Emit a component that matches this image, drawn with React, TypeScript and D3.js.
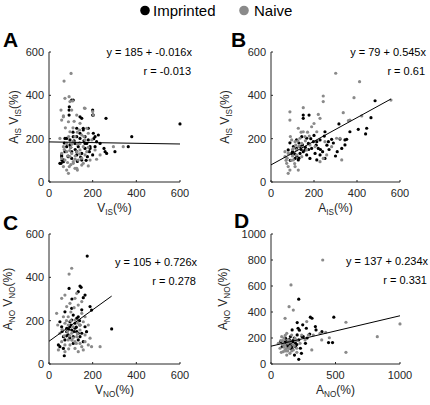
import React from 'react';
import * as d3 from 'd3';

type Pt = [number, number];

// ---------- data ----------
const seriesNames = ['Imprinted', 'Naive'];
const seriesColors = ['#000000', '#8a8a8a'];

const aImprinted: Pt[] = [
  [600,268],[379,209],[363,163],[302,140],[257,140],[264,132],[252,155],[261,294],[200,309],[200,332],
  [92,309],[92,332],[111,378],[104,378],[127,248],[150,294],[157,248],[142,201],[165,209],[180,194],
  [203,225],[226,217],[218,186],[81,201],[96,171],[119,178],[134,163],[165,155],[188,163],[73,140],
  [104,140],[127,125],[150,132],[176,117],[200,125],[58,117],[50,86],[66,94],[104,109],[150,101],
  [211,163],[234,178],[81,163],[55,86],[96,194],[127,209],[180,248],[142,225],[165,178],[88,120],
  [120,150],[140,180],[110,230],[70,180],[160,190],[185,140],[60,100],[130,95],[205,200],
  [73,201],[111,209],[157,240],[211,209],[173,178],[188,155],[58,125],[66,102],[88,117],[127,140],
  [142,301],[203,309],[93,347],[99,160],[115,190],[145,115],[170,100]
];
const aNaive: Pt[] = [
  [69,466],[101,501],[73,386],[92,394],[108,374],[55,332],[66,305],[162,341],[200,325],[203,309],
  [89,278],[127,309],[104,332],[142,271],[173,248],[50,201],[66,163],[96,117],[93,71],[89,40],
  [119,63],[130,55],[150,78],[180,74],[188,101],[218,105],[234,125],[295,163],[340,163],[111,186],
  [142,178],[157,163],[81,140],[58,132],[104,132],[127,140],[173,140],[211,148],[73,101],[134,101],
  [165,125],[96,232],[119,209],[150,217],[180,225],[196,194],[81,178],[58,109],[142,148],[165,194],
  [111,86],[81,55],[66,71],[100,160],[120,120],[85,90],[140,240],[75,250],[115,280],[160,210],
  [95,145],[130,175],[96,371],[165,340],[58,286],[66,301],[127,63],[157,86],[111,94],[100,80],
  [120,105],[140,130],[90,210],[110,250],[130,230],[70,150],[85,120],[150,110],[180,160],[105,175]
];

const bImprinted: Pt[] = [
  [484,375],[465,297],[445,248],[440,222],[406,243],[367,232],[352,197],[344,194],[321,198],[316,268],
  [308,140],[282,197],[267,186],[251,232],[248,212],[228,194],[213,186],[197,186],[189,155],[220,155],
  [205,132],[228,125],[251,109],[213,102],[181,109],[166,125],[158,148],[146,171],[135,163],[119,155],
  [143,209],[166,202],[150,309],[150,294],[177,309],[88,181],[80,148],[96,132],[112,109],[127,102],
  [135,132],[174,178],[329,155],[344,171],[119,194],[104,163],[200,215],[260,170],[240,140],[150,140],
  [130,180],[175,150],[110,130],[290,180],[100,140],[120,120],[140,150],[160,160],[185,200],[210,170],
  [230,150],[270,150],[300,120],[90,100],[130,110]
];
const bNaive: Pt[] = [
  [301,502],[412,463],[386,389],[558,378],[243,397],[243,371],[150,343],[88,324],[88,286],[220,312],
  [228,294],[336,320],[360,283],[422,305],[321,202],[305,202],[329,102],[127,248],[189,255],[213,232],
  [112,186],[135,202],[158,209],[104,155],[80,132],[65,117],[73,86],[80,71],[88,55],[80,40],
  [112,71],[127,55],[104,102],[143,117],[166,148],[181,171],[205,163],[243,109],[259,125],[228,94],
  [143,178],[119,148],[367,286],[282,163],[251,186],[150,232],[96,194],[65,140],[119,125],[178,212],
  [95,100],[130,165],[160,190],[70,100],[100,120],[85,130],[100,150],[115,170],[125,190],[140,230],
  [170,230],[200,270],[90,210],[110,85],[75,110]
];

const cImprinted: Pt[] = [
  [175,498],[142,360],[147,354],[92,349],[165,318],[157,306],[134,334],[188,265],[287,162],[195,249],
  [104,257],[73,241],[111,226],[134,218],[96,195],[119,188],[142,180],[165,172],[50,195],[58,172],
  [81,165],[104,157],[127,149],[150,142],[88,134],[111,126],[134,111],[157,103],[43,88],[50,80],
  [66,72],[70,38],[96,172],[119,165],[134,142],[81,149],[104,203],[127,211],[66,126],[172,149],
  [142,126],[111,95],[73,111],[90,160],[100,180],[115,150],[125,170],[80,130],[95,120],[60,150],
  [140,200],[105,300],[150,250]
];
const cNaive: Pt[] = [
  [104,442],[92,415],[73,318],[58,303],[119,303],[127,326],[150,288],[96,280],[81,265],[134,272],
  [35,234],[66,218],[88,218],[150,234],[165,218],[40,180],[73,188],[119,203],[157,195],[180,180],
  [50,142],[88,111],[119,103],[142,95],[165,103],[180,88],[195,80],[234,80],[96,88],[119,72],
  [43,65],[73,57],[134,57],[150,80],[58,103],[104,142],[127,126],[111,172],[165,134],[142,157],
  [73,88],[157,65],[188,119],[88,180],[100,240],[130,190],[85,150],[110,120],[60,160],[95,130],
  [105,110],[125,95],[90,70],[70,130],[115,260],[140,180],[80,200],[100,200],[130,140]
];

const dImprinted: Pt[] = [
  [215,499],[305,360],[318,352],[487,360],[203,319],[246,301],[164,262],[210,275],[274,275],[344,288],
  [349,262],[203,224],[241,211],[151,211],[113,198],[169,172],[215,185],[138,147],[190,134],[228,121],
  [236,82],[182,69],[215,36],[87,134],[74,172],[164,121],[267,159],[446,165],[477,165],[395,249],
  [130,180],[150,160],[180,200],[120,150],[200,150],[140,190],[160,140],[100,160],[250,210],[300,230],
  [110,170],[125,160],[145,175],[170,180],[190,160],[130,130],[150,120],[100,140],[220,260],[280,200]
];
const dNaive: Pt[] = [
  [401,800],[155,608],[140,441],[173,415],[109,351],[581,321],[1000,308],[824,210],[581,90],[452,202],
  [424,244],[393,185],[277,326],[289,223],[328,223],[380,236],[316,108],[83,210],[95,159],[70,121],
  [95,95],[122,69],[147,82],[109,146],[134,185],[160,223],[122,236],[186,198],[199,121],[225,159],
  [238,223],[264,185],[57,159],[147,133],[173,108],[109,108],[90,180],[120,120],[150,170],[100,200],
  [130,100],[170,150],[80,90],[200,180],[100,130],[115,100],[130,160],[140,120],[160,100],[180,140],
  [90,150],[75,180],[110,220],[200,90]
];

const panelLetters = ['A', 'B', 'C', 'D'];
const intercepts = [185, 79, 105, 137];
const slopes = [-0.016, 0.545, 0.726, 0.234];
const eqLabels = ['y = 185 + -0.016x', 'y = 79 + 0.545x', 'y = 105 + 0.726x', 'y = 137 + 0.234x'];
const rLabels = ['r = -0.013', 'r = 0.61', 'r = 0.278', 'r = 0.331'];
const ticks600 = [0, 200, 400, 600];
const ticks1000x = [0, 500, 1000];
const ticks1000y = [0, 200, 400, 600, 800, 1000];

type Part = { t: string; sub?: boolean };
const xLabels: Part[][] = [
  [{ t: 'V' }, { t: 'IS', sub: true }, { t: '(%)' }],
  [{ t: 'A' }, { t: 'IS', sub: true }, { t: '(%)' }],
  [{ t: 'V' }, { t: 'NO', sub: true }, { t: '(%)' }],
  [{ t: 'A' }, { t: 'NO', sub: true }, { t: '(%)' }],
];
const yLabelIS: Part[] = [{ t: 'A' }, { t: 'IS', sub: true }, { t: ' V' }, { t: 'IS', sub: true }, { t: '(%)' }];
const yLabelNO: Part[] = [{ t: 'A' }, { t: 'NO', sub: true }, { t: ' V' }, { t: 'NO', sub: true }, { t: '(%)' }];

// ---------- layout ----------
const FONT = '"Liberation Sans", Arial, Helvetica, sans-serif';
const AX = '#262626';

const panels = [
  { imp: aImprinted, nai: aNaive, xMax: 600, yMax: 600, xTicks: ticks600, yTicks: ticks600, yLabel: yLabelIS,
    L: 49, R: 180, T: 52, B: 182, letterX: 3, letterY: 47, yLabX: 18, xLabY: 212, eqX: 192, eqY: 56 },
  { imp: bImprinted, nai: bNaive, xMax: 600, yMax: 600, xTicks: ticks600, yTicks: ticks600, yLabel: yLabelIS,
    L: 271, R: 400, T: 52, B: 182, letterX: 231, letterY: 47, yLabX: 229, xLabY: 212, eqX: 426, eqY: 56 },
  { imp: cImprinted, nai: cNaive, xMax: 600, yMax: 600, xTicks: ticks600, yTicks: ticks600, yLabel: yLabelNO,
    L: 49, R: 180, T: 234, B: 364, letterX: 3, letterY: 230, yLabX: 12, xLabY: 394, eqX: 197, eqY: 266 },
  { imp: dImprinted, nai: dNaive, xMax: 1000, yMax: 1000, xTicks: ticks1000x, yTicks: ticks1000y, yLabel: yLabelNO,
    L: 271, R: 400, T: 234, B: 364, letterX: 234, letterY: 228, yLabX: 227, xLabY: 394, eqX: 428, eqY: 265 },
];

function RichText({ parts, size }: { parts: Part[]; size: number }) {
  const out: React.ReactNode[] = [];
  let shifted = false;
  parts.forEach((p, i) => {
    let dy = 0;
    if (p.sub && !shifted) { dy = 3; shifted = true; }
    else if (!p.sub && shifted) { dy = -3; shifted = false; }
    out.push(
      <tspan key={i} dy={dy} fontSize={p.sub ? size * 0.68 : size}>{p.t}</tspan>
    );
  });
  return <>{out}</>;
}

function Panel({ idx }: { idx: number }) {
  const p = panels[idx];
  const x = d3.scaleLinear().domain([0, p.xMax]).range([p.L, p.R]);
  const y = d3.scaleLinear().domain([0, p.yMax]).range([p.B, p.T]);
  const all = [...p.imp, ...p.nai];
  const xEnd = Math.min(p.xMax, d3.max(all, (d) => d[0]) ?? p.xMax);
  const lineGen = d3.line<number>().x((v) => x(v)).y((v) => y(intercepts[idx] + slopes[idx] * v));
  const tl = 2;
  return (
    <g>
      <line x1={p.L} x2={p.L} y1={p.B} y2={p.T} stroke={AX} strokeWidth={1} />
      <line x1={p.L} x2={p.R} y1={p.B} y2={p.B} stroke={AX} strokeWidth={1} />
      {p.yTicks.map((t) => (
        <g key={'y' + t}>
          <line x1={p.L} x2={p.L + tl} y1={y(t)} y2={y(t)} stroke={AX} />
          <text x={p.L - 5} y={y(t) + 4} textAnchor="end" fontSize={11} fill={AX}>{t}</text>
        </g>
      ))}
      {p.xTicks.map((t) => (
        <g key={'x' + t}>
          <line x1={x(t)} x2={x(t)} y1={p.B} y2={p.B - tl} stroke={AX} />
          <text x={x(t)} y={p.B + 15} textAnchor="middle" fontSize={11} fill={AX}>{t}</text>
        </g>
      ))}
      {p.imp.map((d, i) => (
        <circle key={'i' + i} cx={x(d[0])} cy={y(d[1])} r={1.6} fill={seriesColors[0]} />
      ))}
      {p.nai.map((d, i) => (
        <circle key={'n' + i} cx={x(d[0])} cy={y(d[1])} r={1.6} fill={seriesColors[1]} />
      ))}
      <path d={lineGen([0, xEnd]) ?? ''} stroke="#000" strokeWidth={1} fill="none" />
      <text x={p.eqX} y={p.eqY} textAnchor="end" fontSize={11} fill="#000">{eqLabels[idx]}</text>
      <text x={p.eqX - 1} y={p.eqY + 19} textAnchor="end" fontSize={11} fill="#000">{rLabels[idx]}</text>
      <text x={(p.L + p.R) / 2} y={p.xLabY} textAnchor="middle" fill={AX}>
        <RichText parts={xLabels[idx]} size={12} />
      </text>
      <text transform={`translate(${p.yLabX},${(p.T + p.B) / 2}) rotate(-90)`} textAnchor="middle" fill={AX}>
        <RichText parts={p.yLabel} size={12} />
      </text>
      <text x={p.letterX} y={p.letterY} fontSize={21} fontWeight="bold" fill="#000">{panelLetters[idx]}</text>
    </g>
  );
}

export default function App() {
  return (
    <svg width={430} height={405} style={{ position: 'absolute', left: 0, top: 0, background: '#fff' }}
      fontFamily={FONT}>
      <rect width={430} height={405} fill="#fff" />
      <g>
        <circle cx={145} cy={10.5} r={4.8} fill={seriesColors[0]} />
        <text x={153} y={16} fontSize={15} fill="#000">{seriesNames[0]}</text>
        <circle cx={244} cy={10.5} r={4.8} fill={seriesColors[1]} />
        <text x={254} y={16} fontSize={15} fill="#000">{seriesNames[1]}</text>
      </g>
      {panels.map((_, i) => <Panel key={i} idx={i} />)}
    </svg>
  );
}
